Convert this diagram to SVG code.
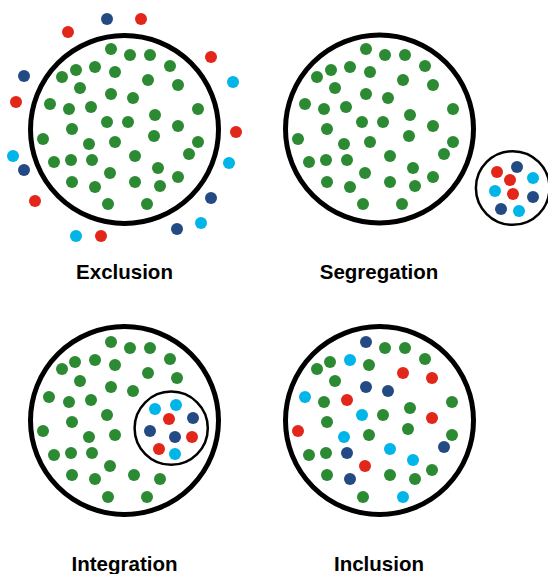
<svg xmlns="http://www.w3.org/2000/svg" xmlns:xlink="http://www.w3.org/1999/xlink" width="548" height="574" viewBox="0 0 548 574">
<style>
.big{fill:none;stroke:#000;stroke-width:5}
.small{fill:none;stroke:#000;stroke-width:2.5}
.lbl{font-family:"Liberation Sans",Arial,sans-serif;font-weight:bold;font-size:20.5px;fill:#000;text-anchor:middle}
</style>
<defs>
<circle id="G" r="6" fill="#2c8a32"/>
<circle id="R" r="6" fill="#e3261a"/>
<circle id="N" r="6" fill="#244a84"/>
<circle id="C" r="6" fill="#00b5e8"/>
<g id="crowd">
<use href="#G" x="111" y="49"/><use href="#G" x="130" y="55"/><use href="#G" x="150" y="55"/><use href="#G" x="170" y="66"/>
<use href="#G" x="76" y="70"/><use href="#G" x="95" y="67"/><use href="#G" x="115" y="72"/><use href="#G" x="62" y="77"/>
<use href="#G" x="148" y="80"/><use href="#G" x="178" y="85"/><use href="#G" x="80" y="88"/><use href="#G" x="111" y="94"/>
<use href="#G" x="133" y="98"/><use href="#G" x="50" y="104"/><use href="#G" x="69" y="109"/><use href="#G" x="91" y="107"/>
<use href="#G" x="198" y="109"/><use href="#G" x="155" y="115"/><use href="#G" x="107" y="122"/><use href="#G" x="128" y="122"/>
<use href="#G" x="178" y="126"/><use href="#G" x="72" y="129"/><use href="#G" x="43" y="139"/><use href="#G" x="154" y="136"/>
<use href="#G" x="115" y="142"/><use href="#G" x="89" y="144"/><use href="#G" x="198" y="142"/><use href="#G" x="189" y="154"/>
<use href="#G" x="135" y="156"/><use href="#G" x="54" y="162"/><use href="#G" x="71" y="160"/><use href="#G" x="92" y="160"/>
<use href="#G" x="158" y="168"/><use href="#G" x="110" y="173"/><use href="#G" x="178" y="177"/><use href="#G" x="72" y="182"/>
<use href="#G" x="95" y="187"/><use href="#G" x="135" y="182"/><use href="#G" x="160" y="186"/><use href="#G" x="108" y="204"/>
<use href="#G" x="147" y="204"/>
</g>
</defs>

<g id="exclusion">
<circle class="big" cx="124.5" cy="129.5" r="94"/>
<use href="#crowd"/>
<use href="#N" x="107" y="19"/><use href="#R" x="141" y="19"/><use href="#R" x="68" y="32"/><use href="#R" x="211" y="57"/>
<use href="#N" x="24" y="76"/><use href="#C" x="233" y="82"/><use href="#R" x="16" y="102"/><use href="#R" x="236" y="132"/>
<use href="#C" x="13" y="156"/><use href="#N" x="24" y="170"/><use href="#C" x="229" y="163"/><use href="#R" x="35" y="201"/>
<use href="#N" x="211" y="198"/><use href="#C" x="201" y="223"/><use href="#N" x="177" y="229"/><use href="#C" x="76" y="236"/>
<use href="#R" x="101" y="236"/>
<text class="lbl" x="124.5" y="279">Exclusion</text>
</g>

<g id="segregation">
<circle class="big" cx="379.5" cy="129" r="94"/>
<use href="#crowd" x="255"/>
<circle class="small" cx="512.7" cy="188" r="36.8"/>
<use href="#R" x="497" y="172"/><use href="#N" x="517" y="167"/><use href="#R" x="510" y="180"/><use href="#C" x="533" y="178"/>
<use href="#C" x="495" y="191"/><use href="#R" x="513" y="194"/><use href="#N" x="533" y="197"/><use href="#N" x="501" y="209"/>
<use href="#C" x="519" y="211"/>
<text class="lbl" x="379" y="279">Segregation</text>
</g>

<g id="integration">
<circle class="big" cx="124.5" cy="420.5" r="94"/>
<use href="#G" x="111" y="342"/><use href="#G" x="130" y="348"/><use href="#G" x="150" y="348"/><use href="#G" x="170" y="359"/>
<use href="#G" x="95" y="360"/><use href="#G" x="75" y="362"/><use href="#G" x="115" y="365"/><use href="#G" x="62" y="369"/>
<use href="#G" x="148" y="373"/><use href="#G" x="177" y="378"/><use href="#G" x="80" y="381"/><use href="#G" x="111" y="387"/>
<use href="#G" x="133" y="391"/><use href="#G" x="49" y="397"/><use href="#G" x="69" y="402"/><use href="#G" x="91" y="400"/>
<use href="#G" x="107" y="415"/><use href="#G" x="72" y="422"/><use href="#G" x="43" y="431"/><use href="#G" x="89" y="437"/>
<use href="#G" x="115" y="435"/><use href="#G" x="54" y="455"/><use href="#G" x="71" y="453"/><use href="#G" x="92" y="453"/>
<use href="#G" x="110" y="466"/><use href="#G" x="72" y="475"/><use href="#G" x="95" y="479"/><use href="#G" x="134" y="475"/>
<use href="#G" x="160" y="479"/><use href="#G" x="108" y="497"/><use href="#G" x="147" y="497"/>
<circle class="small" cx="171.2" cy="428.2" r="36.6"/>
<use href="#C" x="155" y="409"/><use href="#C" x="176" y="405"/><use href="#R" x="169" y="419"/><use href="#N" x="193" y="418"/>
<use href="#N" x="150" y="431"/><use href="#N" x="175" y="437"/><use href="#R" x="192" y="437"/><use href="#R" x="159" y="449"/>
<use href="#C" x="175" y="454"/>
<text class="lbl" x="124.5" y="571">Integration</text>
</g>

<g id="inclusion">
<circle class="big" cx="379.5" cy="420.5" r="94"/>
<use href="#N" x="366" y="342"/><use href="#G" x="385" y="348"/><use href="#G" x="405" y="348"/><use href="#G" x="425" y="359"/>
<use href="#C" x="350" y="360"/><use href="#G" x="330" y="362"/><use href="#G" x="369" y="365"/><use href="#G" x="317" y="369"/>
<use href="#R" x="403" y="373"/><use href="#R" x="432" y="378"/><use href="#G" x="335" y="381"/><use href="#N" x="366" y="387"/>
<use href="#N" x="388" y="391"/><use href="#C" x="305" y="397"/><use href="#G" x="324" y="402"/><use href="#R" x="347" y="400"/>
<use href="#G" x="452" y="402"/><use href="#G" x="410" y="408"/><use href="#C" x="362" y="415"/><use href="#G" x="383" y="415"/>
<use href="#R" x="432" y="418"/><use href="#G" x="327" y="422"/><use href="#R" x="298" y="431"/><use href="#G" x="408" y="429"/>
<use href="#G" x="369" y="435"/><use href="#C" x="344" y="437"/><use href="#G" x="452" y="435"/><use href="#N" x="444" y="447"/>
<use href="#C" x="390" y="449"/><use href="#G" x="309" y="455"/><use href="#G" x="326" y="453"/><use href="#N" x="347" y="453"/>
<use href="#C" x="413" y="460"/><use href="#R" x="365" y="466"/><use href="#G" x="432" y="470"/><use href="#G" x="327" y="475"/>
<use href="#N" x="350" y="479"/><use href="#G" x="390" y="475"/><use href="#G" x="415" y="479"/><use href="#G" x="363" y="497"/>
<use href="#C" x="403" y="497"/>
<text class="lbl" x="379" y="571">Inclusion</text>
</g>
</svg>
